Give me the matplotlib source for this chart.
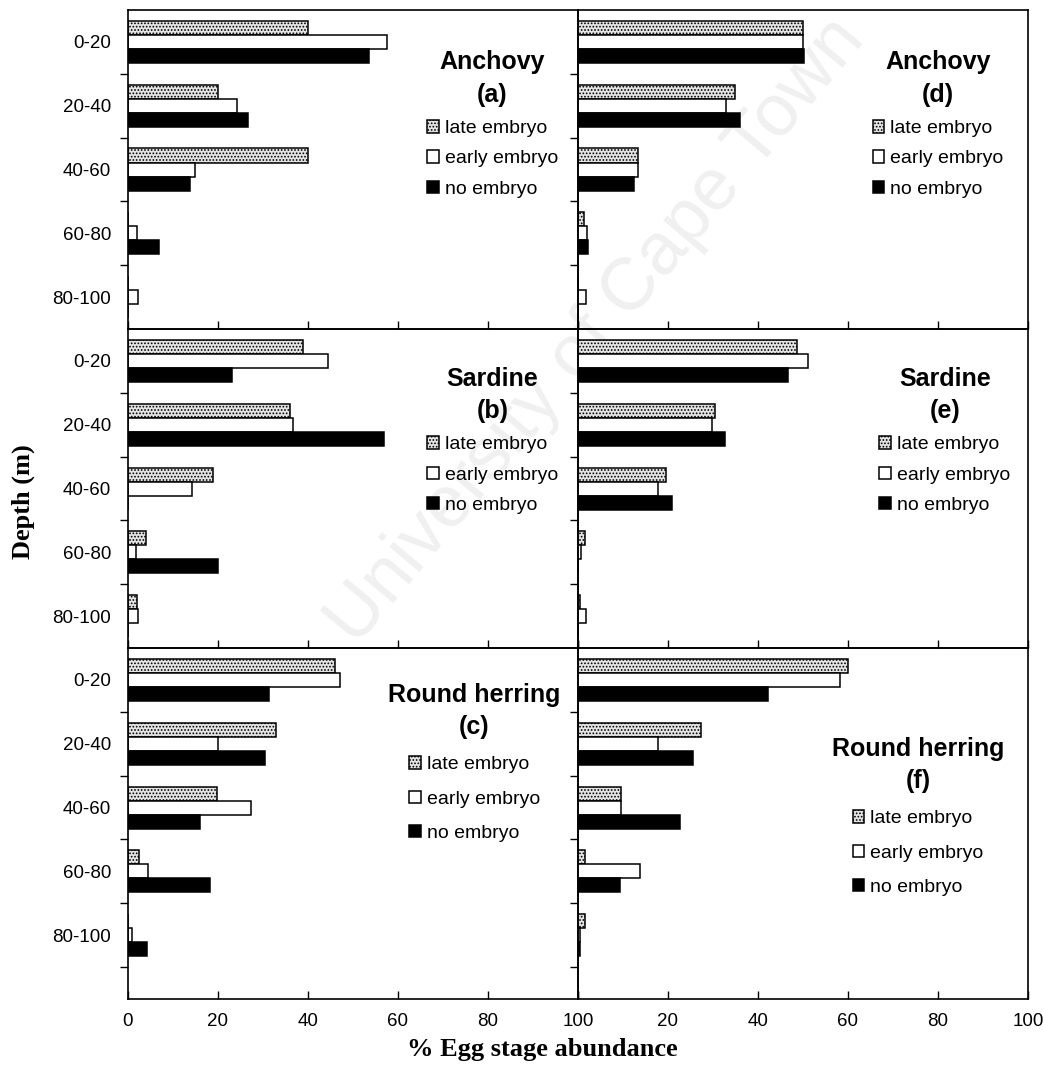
import matplotlib
matplotlib.use('Agg')
from matplotlib import pyplot as plt
from matplotlib.patches import Patch
import numpy as np

plt.rcParams['font.family'] = ['Liberation Sans', 'DejaVu Sans']
plt.rcParams['hatch.linewidth'] = 0.8

depths = ['0-20', '20-40', '40-60', '60-80', '80-100']
stages = ['late embryo', 'early embryo', 'no embryo']

# % egg stage abundance per depth bin (late, early, no embryo)
anchovy_a_late = [40, 20, 40, 0, 0]
anchovy_a_early = [57.5, 24.3, 15, 2, 2.3]
anchovy_a_no = [53.5, 26.6, 13.7, 6.8, 0]

sardine_b_late = [39, 36.1, 19, 4, 1.9]
sardine_b_early = [44.4, 36.7, 14.3, 1.7, 2.3]
sardine_b_no = [23.2, 56.8, 0, 20, 0]

herring_c_late = [45.9, 33, 19.8, 2.5, 0]
herring_c_early = [47.2, 20, 27.4, 4.4, 1]
herring_c_no = [31.4, 30.5, 16, 18.2, 4.3]

anchovy_d_late = [50, 34.8, 13.4, 1.3, 0]
anchovy_d_early = [50, 32.8, 13.4, 2.1, 1.8]
anchovy_d_no = [50.3, 35.9, 12.4, 2.2, 0]

sardine_e_late = [48.6, 30.5, 19.5, 1.5, 0.5]
sardine_e_early = [51.2, 29.7, 17.8, 0.6, 1.8]
sardine_e_no = [46.7, 32.7, 20.8, 0, 0]

herring_f_late = [60, 27.4, 9.5, 1.5, 1.6]
herring_f_early = [58.3, 17.7, 9.5, 13.8, 0.5]
herring_f_no = [42.3, 25.5, 22.6, 9.4, 0.4]

panels = [
    # (row, col, title, letter, late, early, no, legend x, legend y, spacing)
    (0, 0, 'Anchovy', 'a', anchovy_a_late, anchovy_a_early, anchovy_a_no, 0.81, 0.904, 0.68),
    (1, 0, 'Sardine', 'b', sardine_b_late, sardine_b_early, sardine_b_no, 0.81, 0.913, 0.68),
    (2, 0, 'Round herring', 'c', herring_c_late, herring_c_early, herring_c_no, 0.77, 0.929, 0.88),
    (0, 1, 'Anchovy', 'd', anchovy_d_late, anchovy_d_early, anchovy_d_no, 0.80, 0.904, 0.68),
    (1, 1, 'Sardine', 'e', sardine_e_late, sardine_e_early, sardine_e_no, 0.815, 0.913, 0.68),
    (2, 1, 'Round herring', 'f', herring_f_late, herring_f_early, herring_f_no, 0.756, 0.775, 0.88),
]

LATE_STYLE = dict(facecolor='#e4e4e4', edgecolor='black', hatch='.....', linewidth=1.1)
EARLY_STYLE = dict(facecolor='white', edgecolor='black', linewidth=1.1)
NO_STYLE = dict(facecolor='black', edgecolor='black', linewidth=1.1)

fig = plt.figure(figsize=(10.43, 10.68), dpi=100)
gs = fig.add_gridspec(3, 2, height_ratios=[5, 5, 5.5], wspace=0, hspace=0,
                      left=0.1227, right=0.9856, top=0.9906, bottom=0.0646)

# faint watermark from the scanned thesis page, kept behind the axes
fig.text(0.572, 0.69, 'University of Cape Town', fontsize=53, color='#f0f0f0',
         rotation=50, ha='center', va='center', zorder=-1)

y = np.arange(len(depths))
bh = 0.22

for row, col, title, letter, late, early, no, lx, ly, sp in panels:
    ax = fig.add_subplot(gs[row, col])
    ax.set_facecolor('none')
    ax.barh(y - bh, late, height=bh, **LATE_STYLE)
    ax.barh(y, early, height=bh, **EARLY_STYLE)
    ax.barh(y + bh, no, height=bh, **NO_STYLE)

    ax.set_xlim(0, 100)
    if row == 2:
        ax.set_ylim(5.0, -0.5)
        ax.set_yticks(np.arange(len(depths)) + 0.5, minor=True)
    else:
        ax.set_ylim(4.5, -0.5)
        ax.set_yticks(np.arange(len(depths) - 1) + 0.5, minor=True)
    ax.set_yticks(y)
    if col == 0:
        ax.set_yticklabels(depths, fontsize=13.5)
    else:
        ax.set_yticklabels([])
    ax.tick_params(axis='y', which='major', length=0, pad=12)
    ax.tick_params(axis='y', which='minor', length=6, width=1, direction='out')

    ax.set_xticks(np.arange(0, 101, 20))
    ax.tick_params(axis='x', direction='in', length=6, width=1, pad=10, labelsize=13.5)
    if row == 2:
        if col == 0:
            ax.set_xticklabels(['0', '20', '40', '60', '80', '100'])
        else:
            ax.set_xticklabels(['', '20', '40', '60', '80', '100'])
    else:
        ax.set_xticklabels([])

    for s in ax.spines.values():
        s.set_linewidth(1.2)

    handles = [Patch(**LATE_STYLE), Patch(**EARLY_STYLE), Patch(**NO_STYLE)]
    leg = ax.legend(handles, stages, title='%s\n(%s)' % (title, letter),
                    title_fontproperties={'weight': 'bold', 'size': 18},
                    loc='upper center', bbox_to_anchor=(lx, ly), frameon=False,
                    fontsize=14, handlelength=0.6, handleheight=0.6,
                    handletextpad=0.3, labelspacing=sp, borderpad=0,
                    alignment='center')
    leg.get_title().set_linespacing(1.45)
    leg.get_title().set_multialignment('center')

fig.text(0.022, 0.53, 'Depth (m)', family='Liberation Serif', weight='bold',
         fontsize=19, rotation=90, ha='center', va='center')
fig.text(0.52, 0.017, '% Egg stage abundance', family='Liberation Serif',
         weight='bold', fontsize=19, ha='center', va='center')

plt.savefig('out.png', dpi=100)
